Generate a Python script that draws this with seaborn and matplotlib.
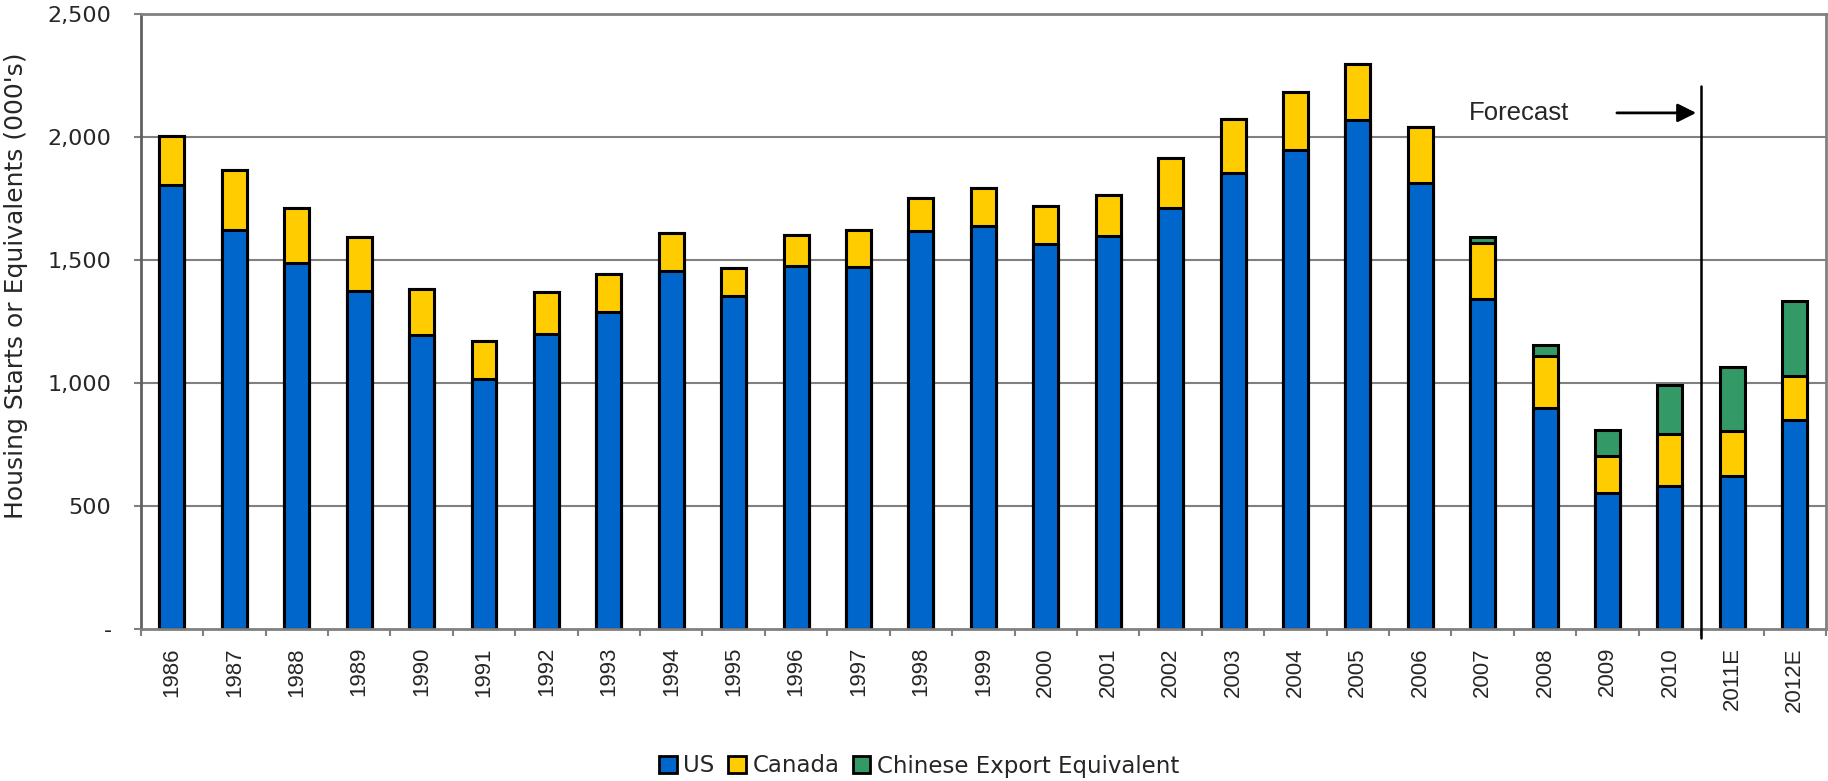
import matplotlib
matplotlib.use("Agg")
import matplotlib.pyplot as plt
from matplotlib.patches import Patch
import numpy as np
import pandas as pd
import seaborn as sns

# Housing starts (000's) by year, with 2011-2012 estimates
years = ["1986", "1987", "1988", "1989", "1990", "1991", "1992", "1993", "1994",
         "1995", "1996", "1997", "1998", "1999", "2000", "2001", "2002", "2003",
         "2004", "2005", "2006", "2007", "2008", "2009", "2010", "2011E", "2012E"]
us = [1805, 1620, 1487, 1376, 1194, 1015, 1200, 1289, 1456,
      1353, 1475, 1472, 1617, 1639, 1567, 1598, 1711, 1853,
      1947, 2070, 1811, 1341, 899, 551, 583, 622, 850]
canada = [199, 247, 224, 216, 189, 156, 170, 154, 153,
          114, 125, 150, 136, 153, 153, 166, 205, 219,
          237, 228, 228, 227, 211, 151, 210, 182, 180]
chinese = [0, 0, 0, 0, 0, 0, 0, 0, 0,
           0, 0, 0, 0, 0, 0, 0, 0, 0,
           0, 0, 0, 25, 46, 108, 199, 261, 304]

series_names = ["US", "Canada", "Chinese Export Equivalent"]
series_colors = ["#0066CC", "#FFCC00", "#339966"]
y_ticks = [0, 500, 1000, 1500, 2000, 2500]
y_tick_labels = ["-", "500", "1,000", "1,500", "2,000", "2,500"]

df = pd.DataFrame({"year": years, "us": us, "canada": canada, "chinese": chinese})
df["us_ca"] = df["us"] + df["canada"]
df["total"] = df["us_ca"] + df["chinese"]

sns.set_style("white")
plt.rcParams["font.family"] = ["DejaVu Sans"]

fig = plt.figure(figsize=(18.28, 7.81), dpi=100)
ax = fig.add_axes([140.7 / 1828, 1 - 629 / 781, (1826 - 140.7) / 1828, (629 - 14) / 781])

grid_col = "#808080"
for yv in y_ticks[1:]:
    ax.axhline(yv, color=grid_col, lw=1.5, zorder=0)

# Stacked bars drawn as cumulative layers: total, US+Canada, US
bar_kw = dict(order=years, width=0.4, saturation=1, edgecolor="black",
              linewidth=2.2, ax=ax, zorder=2)
sns.barplot(data=df, x="year", y="total", color=series_colors[2], **bar_kw)
sns.barplot(data=df, x="year", y="us_ca", color=series_colors[1], **bar_kw)
sns.barplot(data=df, x="year", y="us", color=series_colors[0], **bar_kw)

ax.set_xlim(-0.5, len(years) - 0.5)
ax.set_ylim(0, 2500)
ax.set_xlabel("")
ax.set_ylabel("")

for side in ["left", "bottom", "top", "right"]:
    ax.spines[side].set_visible(True)
    ax.spines[side].set_color(grid_col)
    ax.spines[side].set_linewidth(2)
ax.spines["left"].set_color("#606060")

ax.set_yticks(y_ticks)
ax.set_yticklabels(y_tick_labels)
ax.tick_params(axis="y", which="major", length=5, width=1.5, color=grid_col,
               pad=16, labelsize=16, left=True)
ax.set_xticks(range(len(years)))
ax.set_xticklabels(years, rotation=90, fontfamily="Liberation Sans")
ax.set_xticks(np.arange(-0.5, len(years), 1.0), minor=True)
ax.tick_params(axis="x", which="major", length=0, pad=13, labelsize=16)
ax.tick_params(axis="x", which="minor", length=5, width=1.5, color=grid_col, bottom=True)

# Forecast divider, label and arrow
ax.axvline(24.5, ymin=-0.015, ymax=2208 / 2500, color="black", lw=1.8,
           clip_on=False, zorder=3)
ax.text(20.78, 2098, "Forecast", fontsize=18.5, fontfamily="Liberation Sans",
        ha="left", va="center", zorder=4)
ax.annotate("", xy=(24.42, 2098), xytext=(23.15, 2098),
            arrowprops=dict(arrowstyle="-|>", color="black", lw=2,
                            mutation_scale=28, shrinkA=0, shrinkB=0), zorder=4)

fig.text(16 / 1828, 1 - 286 / 781, "Housing Starts or Equivalents (000's)",
         rotation=90, ha="center", va="center", fontsize=18)

handles = [Patch(facecolor=c, edgecolor="black", linewidth=2) for c in series_colors]
fig.legend(handles, series_names, loc="center", bbox_to_anchor=(0.503, 1 - 766 / 781),
           ncol=3, frameon=False, fontsize=16.5, handlelength=0.75, handleheight=0.75,
           handletextpad=0.3, columnspacing=0.6)

fig.savefig("out.png", dpi=100)
